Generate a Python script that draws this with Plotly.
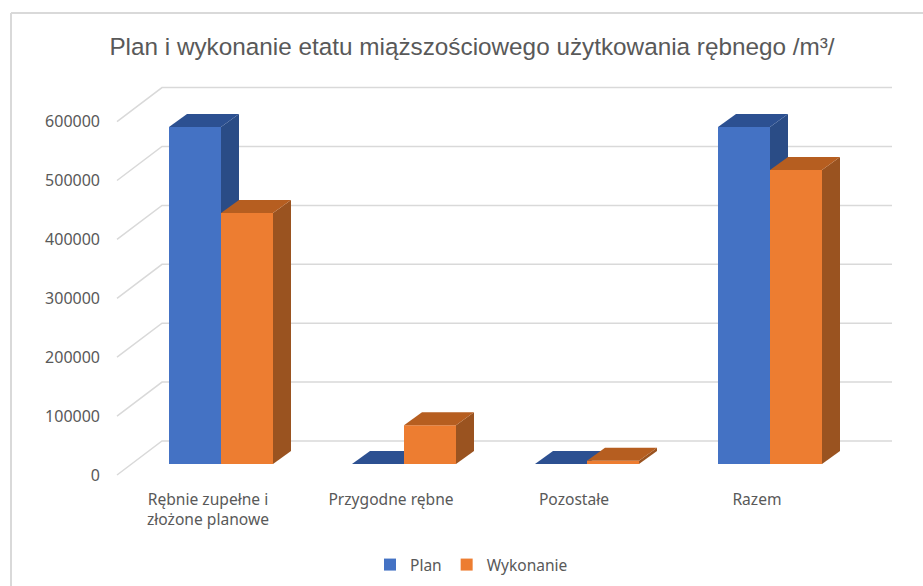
import plotly.graph_objects as go

# ---- data ----
categories = ["Rębnie zupełne i<br>złożone planowe", "Przygodne rębne", "Pozostałe", "Razem"]
plan = [572000, 0, 0, 572000]
wykonanie = [426000, 66000, 5600, 499000]
y_ticks = [0, 100000, 200000, 300000, 400000, 500000, 600000]
title = "Plan i wykonanie etatu miąższościowego użytkowania rębnego /m³/"

# ---- geometry of the pseudo-3D projection (pixels) ----
W, H = 923, 586
L, R = 101, 900
AXIS_Y = 488                     # pixel y of the category label axis
CAT_X0, CAT_STEP = 221, 183      # pixel x of first group's centre, spacing
PX_PER_UNIT = 58.9 / 100000
ZERO_WALL, ZERO_BAR = 475, 464   # pixel y of value 0 on tick plane and bar plane
BAR_W = 52 / CAT_STEP
BAR_DX, BAR_DY = 18 / CAT_STEP, 13 / PX_PER_UNIT
WALL_DX, WALL_DY = 45 / CAT_STEP, 34 / PX_PER_UNIT
WALL_X = (117 - CAT_X0) / CAT_STEP
GRID_END = (892 - CAT_X0) / CAT_STEP
LABEL_SHIFT = -13 / CAT_STEP

GRID = "#D9D9D9"
TEXT = "#595959"
FONT = "Noto Sans"
C_PLAN = ("#4472C4", "#2A4C86", "#2C5091")   # front, side, top
C_WYK = ("#ED7D31", "#9A5320", "#B65E20")

xr = [(L - CAT_X0) / CAT_STEP, (R - CAT_X0) / CAT_STEP]
def yrange(zero):
    return [(zero - H) / PX_PER_UNIT, zero / PX_PER_UNIT]

fig = go.Figure()

# walls: grid lines on the tick plane
for v in y_ticks:
    fig.add_trace(go.Scatter(
        x=[WALL_X, WALL_X + WALL_DX, GRID_END], y=[v, v + WALL_DY, v + WALL_DY],
        mode="lines", line=dict(color=GRID, width=1.5),
        showlegend=False, hoverinfo="skip", xaxis="x", yaxis="y"))

def add_series(name, values, colors, offset, yaxis):
    front, side, top = colors
    fig.add_trace(go.Bar(
        x=list(range(len(values))), y=values, name=name, width=BAR_W, offset=offset,
        marker=dict(color=front, line=dict(width=0)), xaxis="x", yaxis=yaxis))
    for i, v in enumerate(values):
        x0 = i + offset
        x1 = x0 + BAR_W
        fig.add_trace(go.Scatter(
            x=[x1, x1 + BAR_DX, x1 + BAR_DX, x1, x1],
            y=[0, BAR_DY, v + BAR_DY, v, 0],
            mode="lines", fill="toself", fillcolor=side, line=dict(width=0),
            showlegend=False, hoverinfo="skip", xaxis="x", yaxis=yaxis))
        fig.add_trace(go.Scatter(
            x=[x0, x1, x1 + BAR_DX, x0 + BAR_DX, x0],
            y=[v, v, v + BAR_DY, v + BAR_DY, v],
            mode="lines", fill="toself", fillcolor=top, line=dict(width=0),
            showlegend=False, hoverinfo="skip", xaxis="x", yaxis=yaxis))

add_series("Plan", plan, C_PLAN, -BAR_W, "y2")
add_series("Wykonanie", wykonanie, C_WYK, 0, "y3")

px = lambda p: (p - L) / (R - L)
py = lambda p: 1 - p / H

fig.update_layout(
    width=W, height=H, autosize=False,
    margin=dict(l=L, r=W - R, t=0, b=0),
    paper_bgcolor="white", plot_bgcolor="rgba(0,0,0,0)",
    font=dict(family=FONT, color=TEXT, size=15),
    title=dict(text=title, x=472 / W, xanchor="center", y=1 - 46 / H, yanchor="middle",
               font=dict(family="Liberation Sans", size=24.3, color=TEXT)),
    xaxis=dict(range=xr, tickmode="array", anchor="free", position=py(AXIS_Y),
               tickvals=[i + LABEL_SHIFT for i in range(len(categories))],
               ticktext=categories, showgrid=False, zeroline=False, showline=False,
               ticks="", tickangle=0, tickfont=dict(size=15.6, color=TEXT)),
    yaxis=dict(range=yrange(ZERO_WALL), tickmode="array", tickvals=y_ticks,
               ticktext=[str(v) for v in y_ticks], showgrid=False, zeroline=False,
               showline=False, ticks="", tickfont=dict(size=16, color=TEXT)),
    yaxis2=dict(range=yrange(ZERO_BAR), overlaying="y", visible=False),
    yaxis3=dict(range=yrange(ZERO_BAR), overlaying="y", visible=False),
    legend=dict(orientation="h", x=px(370), xanchor="left",
                y=py(565), yanchor="middle",
                font=dict(size=15.5, color=TEXT), bgcolor="rgba(0,0,0,0)"),
    shapes=[dict(type="line", xref="paper", yref="paper",
                 x0=px(11), x1=px(11), y0=py(H), y1=py(13),
                 line=dict(color=GRID, width=2)),
            dict(type="line", xref="paper", yref="paper",
                 x0=px(11), x1=px(W), y0=py(13), y1=py(13),
                 line=dict(color=GRID, width=2))],
)

fig.write_html("out.html", config={"displayModeBar": False},
               post_script="document.body.style.margin='0';document.documentElement.style.overflow='hidden';")
